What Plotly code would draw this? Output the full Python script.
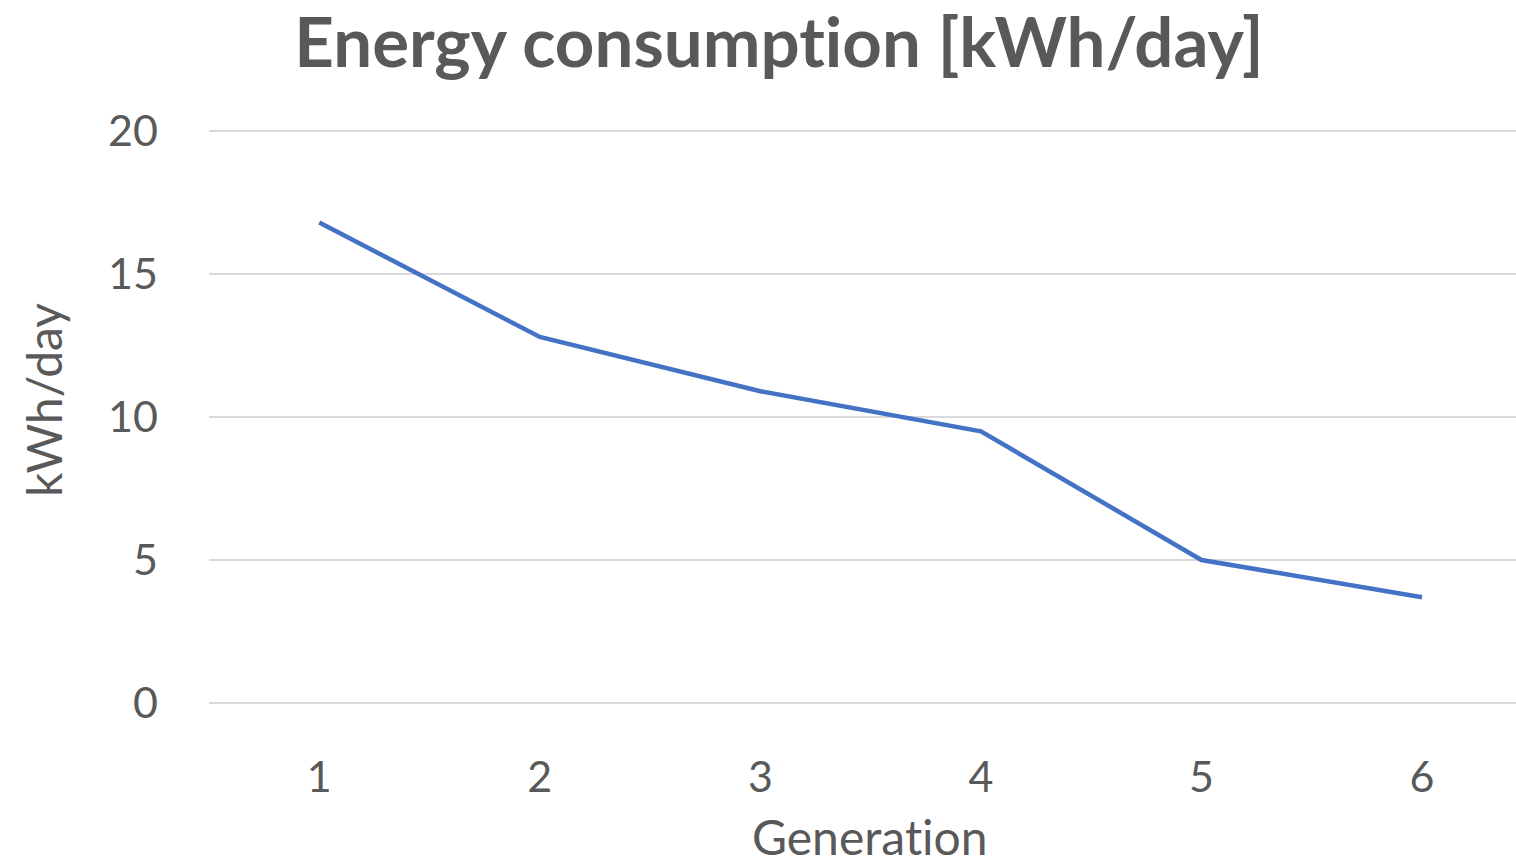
import plotly.graph_objects as go

generations = [1, 2, 3, 4, 5, 6]
energy_kwh_day = [16.8, 12.8, 10.9, 9.5, 5.0, 3.7]
y_ticks = [0, 5, 10, 15, 20]

PAGE_W, PAGE_H = 1516, 866
OFF = 0  # body margin removed by post_script
W, H = PAGE_W - OFF, PAGE_H - OFF
FONT = "Lato"
TXT = "#595959"
ZW = "\u200c"  # break the 'ti' ligature

# target pixel geometry (page coordinates)
Y0_PX, Y20_PX = 703, 131
PAD = 4  # extra px so edge gridlines are not clipped
unit = (Y0_PX - Y20_PX) / 20.0
PL, PR = 209, PAGE_W
PT, PB = Y20_PX - PAD, Y0_PX + PAD
l = PL - OFF
t = PT - OFF
r = W - (PR - OFF)
b = H - (PB - OFF)
pw = W - l - r
ph = H - t - b

def px(x):
    return (x - OFF - l) / pw

def py(y):
    return (H - b - (y - OFF)) / ph

fig = go.Figure()
fig.add_trace(go.Scatter(
    x=generations, y=energy_kwh_day, mode="lines",
    line=dict(color="#4472C4", width=4.5), showlegend=False,
))

fig.update_layout(
    width=W, height=H,
    margin=dict(l=l, r=r, t=t, b=b),
    paper_bgcolor="white", plot_bgcolor="white",
    font=dict(family=FONT, color=TXT),
    title=dict(text="<b>Energy consump" + "t" + ZW + "ion [kWh/day]</b>",
               x=(779 - OFF) / W, xanchor="center", y=1 - (43 - OFF) / H, yanchor="middle",
               font=dict(size=69, family=FONT, color=TXT)),
)
fig.update_xaxes(
    range=[0.5, 1 + (PR - 319) / 220.6], tickvals=generations,
    showgrid=False, zeroline=False, showline=False, ticks="",
    tickfont=dict(size=43, family=FONT, color=TXT), ticklabelstandoff=41,
)
fig.update_yaxes(
    range=[-PAD / unit, 20 + PAD / unit], tickvals=y_ticks,
    showgrid=True, gridcolor="#D9D9D9", gridwidth=1.5, zeroline=False,
    showline=False, ticks="",
    tickfont=dict(size=43, family=FONT, color=TXT), ticklabelstandoff=50,
)
fig.add_annotation(text="Genera" + "t" + ZW + "ion", xref="paper", yref="paper",
                   x=px(870), y=py(836),
                   xanchor="center", yanchor="middle", showarrow=False,
                   font=dict(size=48, family=FONT, color=TXT))
fig.add_annotation(text="kWh/day", xref="paper", yref="paper",
                   x=px(43), y=py(400),
                   xanchor="center", yanchor="middle", showarrow=False, textangle=-90,
                   font=dict(size=48, family=FONT, color=TXT))

fig.write_html(
    "out.html",
    config={"displayModeBar": False},
    post_script="document.body.style.margin='0';document.body.style.overflow='hidden';",
)
